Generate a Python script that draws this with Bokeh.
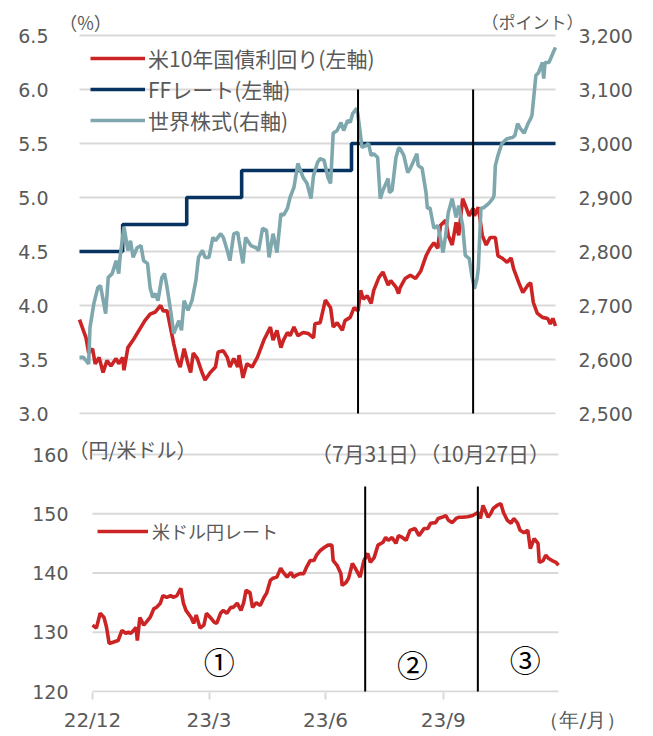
import pandas as pd
from bokeh.plotting import figure
from bokeh.models import (Range1d, LinearAxis, FixedTicker, NumeralTickFormatter,
                          Legend, LegendItem, Label, ColumnDataSource)
from bokeh.core.properties import value
from bokeh.embed import file_html
from bokeh.resources import INLINE

# ---------------- data ----------------
yield_dates = [
    "2022-12-30", "2023-01-04", "2023-01-06", "2023-01-09", "2023-01-11", "2023-01-14", "2023-01-17", "2023-01-20", "2023-01-23", "2023-01-27", "2023-01-29",
    "2023-02-01", "2023-02-02", "2023-02-05", "2023-02-09", "2023-02-11", "2023-02-15", "2023-02-18", "2023-02-22", "2023-02-26",
    "2023-03-02", "2023-03-04", "2023-03-07", "2023-03-10", "2023-03-12", "2023-03-15", "2023-03-17", "2023-03-20", "2023-03-23", "2023-03-25", "2023-03-27", "2023-03-30",
    "2023-04-03", "2023-04-05", "2023-04-09", "2023-04-13", "2023-04-15", "2023-04-19", "2023-04-22", "2023-04-24", "2023-04-27", "2023-04-30",
    "2023-05-01", "2023-05-04", "2023-05-07", "2023-05-11", "2023-05-15", "2023-05-20", "2023-05-25", "2023-05-27", "2023-05-30",
    "2023-06-02", "2023-06-04", "2023-06-07", "2023-06-09", "2023-06-12", "2023-06-15", "2023-06-19", "2023-06-23", "2023-06-27", "2023-06-28",
    "2023-07-02", "2023-07-06", "2023-07-10", "2023-07-12", "2023-07-15", "2023-07-19", "2023-07-21", "2023-07-25", "2023-07-28", "2023-07-31",
    "2023-08-02", "2023-08-04", "2023-08-07", "2023-08-10", "2023-08-12", "2023-08-16", "2023-08-19", "2023-08-23", "2023-08-25", "2023-08-29", "2023-08-31",
    "2023-09-01", "2023-09-05", "2023-09-09", "2023-09-13", "2023-09-17", "2023-09-21", "2023-09-24", "2023-09-27", "2023-09-30",
    "2023-10-02", "2023-10-06", "2023-10-08", "2023-10-11", "2023-10-14", "2023-10-16", "2023-10-19", "2023-10-21", "2023-10-24", "2023-10-27", "2023-10-28", "2023-10-31",
    "2023-11-03", "2023-11-06", "2023-11-09", "2023-11-13", "2023-11-15", "2023-11-18", "2023-11-22", "2023-11-25", "2023-11-27",
    "2023-12-01", "2023-12-04", "2023-12-08", "2023-12-10", "2023-12-12", "2023-12-15", "2023-12-19", "2023-12-23", "2023-12-25", "2023-12-27", "2023-12-29",
]
yield_values = [
    3.87, 3.70, 3.56, 3.60, 3.46, 3.52, 3.38, 3.49, 3.44, 3.51, 3.46,
    3.52, 3.40, 3.61, 3.68, 3.72, 3.80, 3.86, 3.92, 3.94,
    4.00, 3.95, 3.95, 3.77, 3.65, 3.49, 3.43, 3.60, 3.46, 3.38, 3.56, 3.51,
    3.37, 3.31, 3.38, 3.43, 3.57, 3.58, 3.52, 3.43, 3.51, 3.43,
    3.54, 3.33, 3.46, 3.43, 3.52, 3.68, 3.80, 3.68, 3.77,
    3.61, 3.68, 3.75, 3.72, 3.80, 3.72, 3.75, 3.74, 3.70, 3.83,
    3.84, 4.05, 3.98, 3.80, 3.84, 3.77, 3.86, 3.89, 3.98, 3.95,
    4.14, 4.06, 4.09, 4.02, 4.14, 4.26, 4.31, 4.19, 4.23, 4.17, 4.11,
    4.16, 4.25, 4.28, 4.25, 4.32, 4.46, 4.53, 4.58, 4.53,
    4.74, 4.79, 4.65, 4.56, 4.77, 4.65, 4.99, 4.93, 4.83, 4.90, 4.83, 4.91,
    4.65, 4.56, 4.63, 4.63, 4.46, 4.44, 4.40, 4.44, 4.34,
    4.21, 4.12, 4.19, 4.21, 4.03, 3.93, 3.89, 3.88, 3.83, 3.88, 3.81,
]

ff_dates = ["2022-12-30", "2023-02-01", "2023-03-22", "2023-05-03", "2023-07-26", "2023-12-29"]
ff_values = [4.50, 4.75, 5.00, 5.25, 5.50, 5.50]

stock_dates = [
    "2022-12-30", "2023-01-02", "2023-01-06", "2023-01-07", "2023-01-10", "2023-01-13", "2023-01-15", "2023-01-19", "2023-01-21", "2023-01-24", "2023-01-27", "2023-01-29", "2023-01-30",
    "2023-02-02", "2023-02-05", "2023-02-07", "2023-02-09", "2023-02-12", "2023-02-15", "2023-02-17", "2023-02-20", "2023-02-22", "2023-02-24", "2023-02-26", "2023-02-28",
    "2023-03-03", "2023-03-05", "2023-03-07", "2023-03-10", "2023-03-12", "2023-03-13", "2023-03-16", "2023-03-18", "2023-03-20", "2023-03-23", "2023-03-26", "2023-03-29", "2023-03-31",
    "2023-04-03", "2023-04-05", "2023-04-08", "2023-04-11", "2023-04-13", "2023-04-17", "2023-04-19", "2023-04-22", "2023-04-24", "2023-04-27", "2023-04-30",
    "2023-05-01", "2023-05-04", "2023-05-06", "2023-05-10", "2023-05-14", "2023-05-16", "2023-05-19", "2023-05-22", "2023-05-24", "2023-05-27", "2023-05-30",
    "2023-06-02", "2023-06-04", "2023-06-07", "2023-06-09", "2023-06-12", "2023-06-15", "2023-06-17", "2023-06-19", "2023-06-22", "2023-06-25", "2023-06-27", "2023-06-30",
    "2023-07-02", "2023-07-05", "2023-07-08", "2023-07-10", "2023-07-12", "2023-07-15", "2023-07-18", "2023-07-20", "2023-07-23", "2023-07-25", "2023-07-27", "2023-07-30", "2023-07-31",
    "2023-08-03", "2023-08-06", "2023-08-08", "2023-08-10", "2023-08-12", "2023-08-15", "2023-08-17", "2023-08-19", "2023-08-23", "2023-08-24", "2023-08-26", "2023-08-29", "2023-08-31",
    "2023-09-01", "2023-09-04", "2023-09-07", "2023-09-09", "2023-09-11", "2023-09-14", "2023-09-15", "2023-09-18", "2023-09-21", "2023-09-22", "2023-09-24", "2023-09-27", "2023-09-30",
    "2023-10-02", "2023-10-04", "2023-10-06", "2023-10-08", "2023-10-11", "2023-10-14", "2023-10-16", "2023-10-19", "2023-10-21", "2023-10-24", "2023-10-26", "2023-10-28", "2023-10-30", "2023-10-31",
    "2023-11-02", "2023-11-04", "2023-11-08", "2023-11-11", "2023-11-12", "2023-11-13", "2023-11-15", "2023-11-18", "2023-11-22", "2023-11-26", "2023-11-28", "2023-11-30",
    "2023-12-02", "2023-12-05", "2023-12-08", "2023-12-10", "2023-12-11", "2023-12-14", "2023-12-16", "2023-12-19", "2023-12-20", "2023-12-21", "2023-12-24", "2023-12-27", "2023-12-29",
]
stock_values = [
    2604, 2604, 2592, 2659, 2704, 2733, 2737, 2685, 2752, 2759, 2783, 2759, 2789,
    2846, 2802, 2820, 2789, 2807, 2811, 2783, 2778, 2733, 2715, 2722, 2709,
    2752, 2759, 2733, 2685, 2648, 2654, 2672, 2654, 2709, 2691, 2709, 2746, 2789,
    2802, 2789, 2789, 2826, 2820, 2833, 2826, 2802, 2783, 2833, 2835,
    2820, 2778, 2826, 2811, 2807, 2802, 2843, 2839, 2789, 2833, 2798,
    2870, 2867, 2880, 2900, 2919, 2963, 2950, 2937, 2926, 2898, 2941, 2965,
    2972, 2969, 2937, 2926, 3019, 3024, 3039, 3024, 3043, 3039, 3056, 3065, 3052,
    2993, 2996, 3000, 2978, 2981, 2974, 2898, 2913, 2935, 2909, 2913, 2974, 2991,
    2991, 2978, 2946, 2954, 2965, 2981, 2959, 2954, 2909, 2880, 2881, 2843, 2848,
    2824, 2798, 2830, 2872, 2898, 2863, 2885, 2848, 2793, 2787, 2756, 2731, 2750, 2769,
    2880, 2881, 2889, 2898, 2904, 2959, 2978, 3000, 3009, 3011, 3015, 3037,
    3028, 3019, 3037, 3046, 3052, 3126, 3131, 3150, 3120, 3150, 3150, 3167, 3178,
]

usdjpy_dates = [
    "2022-12-30", "2023-01-02", "2023-01-05", "2023-01-08", "2023-01-10", "2023-01-12", "2023-01-15", "2023-01-19", "2023-01-22", "2023-01-25", "2023-01-27", "2023-01-29",
    "2023-02-02", "2023-02-03", "2023-02-05", "2023-02-08", "2023-02-10", "2023-02-13", "2023-02-16", "2023-02-18", "2023-02-21", "2023-02-23", "2023-02-26",
    "2023-03-01", "2023-03-03", "2023-03-06", "2023-03-09", "2023-03-11", "2023-03-13", "2023-03-17", "2023-03-19", "2023-03-21", "2023-03-24", "2023-03-27", "2023-03-29",
    "2023-04-01", "2023-04-04", "2023-04-06", "2023-04-09", "2023-04-11", "2023-04-14", "2023-04-17", "2023-04-19", "2023-04-22", "2023-04-25", "2023-04-27", "2023-04-29",
    "2023-05-02", "2023-05-04", "2023-05-07", "2023-05-10", "2023-05-13", "2023-05-15", "2023-05-18", "2023-05-20", "2023-05-23", "2023-05-26", "2023-05-28", "2023-05-31",
    "2023-06-03", "2023-06-05", "2023-06-07", "2023-06-10", "2023-06-13", "2023-06-15", "2023-06-18", "2023-06-21", "2023-06-23", "2023-06-26", "2023-06-29",
    "2023-07-02", "2023-07-05", "2023-07-06", "2023-07-09", "2023-07-12", "2023-07-13", "2023-07-16", "2023-07-18", "2023-07-21", "2023-07-23", "2023-07-27", "2023-07-30",
    "2023-08-02", "2023-08-04", "2023-08-07", "2023-08-10", "2023-08-14", "2023-08-16", "2023-08-18", "2023-08-21", "2023-08-24", "2023-08-26", "2023-08-29",
    "2023-09-01", "2023-09-04", "2023-09-08", "2023-09-11", "2023-09-15", "2023-09-18", "2023-09-20", "2023-09-24", "2023-09-26", "2023-09-29",
    "2023-10-02", "2023-10-04", "2023-10-07", "2023-10-10", "2023-10-12", "2023-10-15", "2023-10-19", "2023-10-23", "2023-10-27", "2023-10-29", "2023-10-31",
    "2023-11-04", "2023-11-06", "2023-11-08", "2023-11-11", "2023-11-14", "2023-11-16", "2023-11-19", "2023-11-22", "2023-11-24", "2023-11-27", "2023-11-29",
    "2023-12-02", "2023-12-05", "2023-12-07", "2023-12-10", "2023-12-13", "2023-12-14", "2023-12-17", "2023-12-19", "2023-12-21", "2023-12-24", "2023-12-27", "2023-12-29",
]
usdjpy_values = [
    131.2, 130.7, 133.2, 132.5, 130.8, 128.1, 128.3, 128.6, 130.3, 129.8, 130.0, 129.8,
    130.8, 128.6, 132.5, 131.2, 131.7, 132.5, 134.0, 134.2, 134.9, 136.2, 135.9,
    136.2, 135.9, 136.2, 137.4, 134.9, 133.7, 132.5, 131.5, 132.9, 130.7, 131.2, 133.2,
    132.5, 131.7, 131.5, 133.2, 133.7, 133.2, 134.2, 134.2, 134.9, 133.7, 134.9, 137.1,
    136.7, 134.2, 135.0, 134.5, 135.9, 136.6, 138.8, 139.1, 139.3, 140.8, 140.1, 139.3,
    140.1, 139.3, 139.6, 139.9, 139.9, 140.9, 142.1, 142.1, 143.0, 143.8, 144.3,
    144.7, 144.7, 142.1, 141.3, 139.9, 137.9, 138.4, 139.1, 141.6, 140.9, 139.3, 142.1,
    143.3, 141.8, 142.6, 144.7, 145.2, 146.0, 145.5, 146.0, 145.0, 146.3, 146.0,
    145.5, 147.2, 147.5, 146.3, 147.5, 147.5, 148.4, 148.5, 149.2, 149.4,
    149.7, 148.9, 148.5, 149.2, 149.4, 149.4, 149.5, 149.7, 150.2, 149.2, 151.4,
    149.4, 150.0, 150.9, 151.4, 151.7, 150.2, 148.9, 148.4, 149.2, 148.4, 147.2,
    146.8, 147.2, 144.1, 145.8, 145.0, 141.8, 142.1, 143.0, 142.5, 142.1, 141.8, 141.3,
]

event_dates = ["2023-07-31", "2023-10-27"]
event_caption = "（7月31日）（10月27日）"
phase_labels = ["①", "②", "③"]
phase_dates = ["2023-04-08", "2023-09-06", "2023-12-03"]
phase_level = [125.3, 124.8, 125.6]

x_start, x_end = "2022-12-30", "2023-12-29"
x_tick_dates = ["2022-12-30", "2023-03-31", "2023-06-30", "2023-09-30"]
x_tick_labels = ["22/12", "23/3", "23/6", "23/9"]
x_unit_date, x_unit_label = "2024-01-17", "（年/月）"
left_ticks = [3.0, 3.5, 4.0, 4.5, 5.0, 5.5, 6.0, 6.5]
right_ticks = [2500, 2600, 2700, 2800, 2900, 3000, 3100, 3200]
fx_ticks = [120, 130, 140, 150, 160]

series_names = ["米10年国債利回り(左軸)", "FFレート(左軸)", "世界株式(右軸)"]
fx_name = "米ドル円レート"

# ---------------- style ----------------
RED = "#CC2424"
NAVY = "#06335F"
TEAL = "#7FA8AE"
GRID = "#D9D9D9"
TXT = "#595959"
NUMFONT = "DejaVu Sans"
JPFONT = "Noto Sans CJK JP"
LW = 3.6

def ts(s):
    return pd.Timestamp(s)

def days(d):
    return pd.Timedelta(days=d)

def style_yaxis(ax, standoff):
    ax.axis_line_color = None
    ax.major_tick_line_color = None
    ax.minor_tick_line_color = None
    ax.major_tick_out = 0
    ax.major_tick_in = 0
    ax.major_label_standoff = standoff
    ax.major_label_text_font = NUMFONT
    ax.major_label_text_font_size = "19px"
    ax.major_label_text_color = TXT

def jp_label(plot, x, y, text, size, color=TXT):
    plot.add_layout(Label(x=x, y=y, x_units="screen", y_units="screen", text=text,
                          text_align="center", text_baseline="middle",
                          text_font=JPFONT, text_font_size=size, text_color=color))

# ---------------- top panel ----------------
# frame: x 60..576, y 8..414 (px); data area spans 79..555
top_lo, top_hi = 3.0 - 1 / 108, 6.75
p1 = figure(width=653, height=436, x_axis_type="datetime", x_axis_location=None,
            x_range=Range1d(ts(x_start) - days(14.53), ts(x_end) + days(16.06)),
            y_range=Range1d(top_lo, top_hi),
            output_backend="svg", toolbar_location=None,
            min_border_left=60, min_border_right=77, min_border_top=8, min_border_bottom=22)
p1.outline_line_color = None
p1.grid.visible = False
p1.yaxis.ticker = FixedTicker(ticks=left_ticks)
p1.yaxis.formatter = NumeralTickFormatter(format="0.0")
style_yaxis(p1.yaxis[0], 12)

p1.extra_y_ranges = {"right": Range1d(2500 + (top_lo - 3.0) * 200, 2500 + (top_hi - 3.0) * 200)}
ax_r = LinearAxis(y_range_name="right", ticker=FixedTicker(ticks=right_ticks),
                  formatter=NumeralTickFormatter(format="0,0"))
style_yaxis(ax_r, 2)
p1.add_layout(ax_r, "right")

n = len(left_ticks)
p1.segment(x0=[ts(x_start)] * n, x1=[ts(x_end)] * n, y0=left_ticks, y1=left_ticks,
           line_color=GRID, line_width=2)

r_yield = p1.line(pd.to_datetime(yield_dates), yield_values, line_color=RED, line_width=LW)
r_ff = p1.step(pd.to_datetime(ff_dates), ff_values, mode="after", line_color=NAVY, line_width=LW)
r_stock = p1.line(pd.to_datetime(stock_dates), stock_values, line_color=TEAL, line_width=LW,
                  y_range_name="right")
p1.segment(x0=pd.to_datetime(event_dates), x1=pd.to_datetime(event_dates),
           y0=[3.0] * len(event_dates), y1=[6.0] * len(event_dates),
           line_color="black", line_width=2)

leg1 = Legend(items=[LegendItem(label=series_names[0], renderers=[r_yield]),
                     LegendItem(label=series_names[1], renderers=[r_ff]),
                     LegendItem(label=series_names[2], renderers=[r_stock])],
              location=(30, 279), padding=0, margin=0, spacing=1,
              glyph_width=55, glyph_height=30, label_height=30, label_standoff=3,
              label_text_font=JPFONT, label_text_font_size="21px", label_text_color=TXT,
              background_fill_alpha=0, border_line_color=None)
p1.add_layout(leg1)
jp_label(p1, 25, 393, "（%）", "18px")
jp_label(p1, 472, 393, "（ポイント）", "17px")

# ---------------- bottom panel ----------------
# frame: x 76..590, y 436..692 (px, page); data area spans 92..558
bot_lo, bot_hi = 120 - 1 / 5.925, 160 + 18 / 5.925
p2 = figure(width=653, height=300, x_axis_type="datetime",
            x_range=Range1d(ts(x_start) - days(12.5), ts(x_end) + days(25.0)),
            y_range=Range1d(bot_lo, bot_hi),
            output_backend="svg", toolbar_location=None,
            min_border_left=76, min_border_right=63, min_border_top=0, min_border_bottom=44)
p2.outline_line_color = None
p2.grid.visible = False
p2.yaxis.ticker = FixedTicker(ticks=fx_ticks)
p2.yaxis.formatter = NumeralTickFormatter(format="0")
style_yaxis(p2.yaxis[0], 8)

m = len(fx_ticks)
p2.segment(x0=[ts(x_start)] * m, x1=[ts(x_end)] * m, y0=fx_ticks, y1=fx_ticks,
           line_color=GRID, line_width=2)

tick_ms = [int(ts(d).value // 10**6) for d in x_tick_dates]
unit_ms = int(ts(x_unit_date).value // 10**6)
xa = p2.xaxis[0]
xa.ticker = FixedTicker(ticks=tick_ms + [unit_ms], minor_ticks=tick_ms)
overrides = {t: lab for t, lab in zip(tick_ms, x_tick_labels)}
overrides[unit_ms] = x_unit_label
xa.major_label_overrides = overrides
xa.axis_line_color = None
xa.major_tick_line_color = None
xa.major_tick_out = 7
xa.major_tick_in = 0
xa.minor_tick_line_color = GRID
xa.minor_tick_line_width = 2
xa.minor_tick_out = 7
xa.minor_tick_in = 0
xa.major_label_standoff = 8
xa.major_label_text_font = NUMFONT
xa.major_label_text_font_size = "20px"
xa.major_label_text_color = TXT

r_fx = p2.line(pd.to_datetime(usdjpy_dates), usdjpy_values, line_color=RED, line_width=LW)
p2.segment(x0=pd.to_datetime(event_dates), x1=pd.to_datetime(event_dates),
           y0=[120] * len(event_dates), y1=[154.6] * len(event_dates),
           line_color="black", line_width=2)

phase_src = ColumnDataSource(dict(x=pd.to_datetime(phase_dates), y=phase_level, t=phase_labels))
p2.text(x="x", y="y", text="t", source=phase_src, text_align="center", text_baseline="middle",
        text_font=value(JPFONT), text_font_size="31px", text_color="black")

leg2 = Legend(items=[LegendItem(label=fx_name, renderers=[r_fx])],
              location=(21, 146), padding=0, margin=0,
              glyph_width=51, glyph_height=30, label_height=30, label_standoff=4,
              label_text_font=JPFONT, label_text_font_size="18px", label_text_color=TXT,
              background_fill_alpha=0, border_line_color=None)
p2.add_layout(leg2)
jp_label(p2, 56, 243, "（円/米ドル）", "20px")
jp_label(p2, 354, 240, event_caption, "21px")

open("out.html", "w").write(file_html([p1, p2], INLINE))
